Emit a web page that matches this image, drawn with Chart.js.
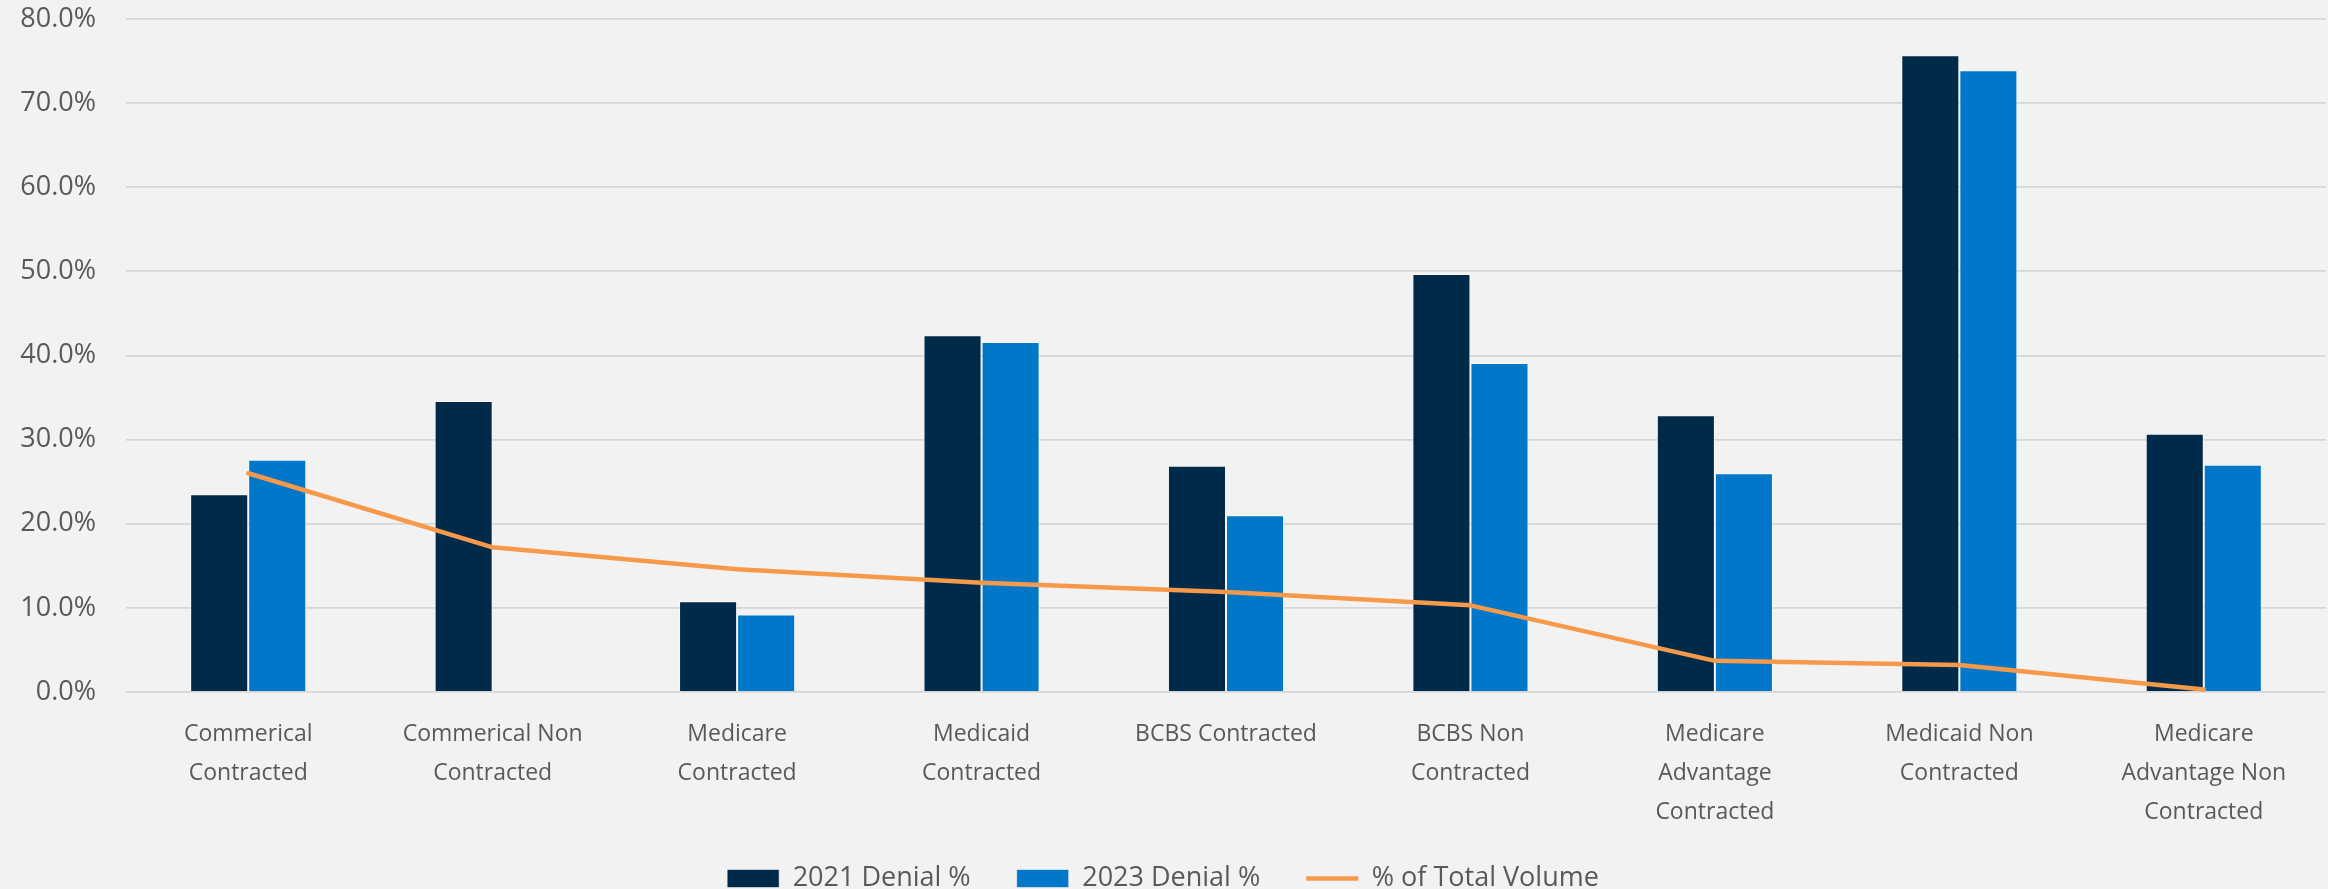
<!DOCTYPE html>
<html>
<head>
<meta charset="utf-8">
<title>Denial % by Payer</title>
<script src="https://cdn.jsdelivr.net/npm/chart.js@4.4.1/dist/chart.umd.min.js"></script>
<style>
  html, body { margin: 0; padding: 0; background: #F2F2F2; }
  #wrap { width: 2328px; height: 889px; }
</style>
</head>
<body>
<div id="wrap"><canvas id="denialChart"></canvas></div>
<script>
// payer groups (multi-line labels)
const payers = [
  ["Commerical", "Contracted"],
  ["Commerical Non", "Contracted"],
  ["Medicare", "Contracted"],
  ["Medicaid", "Contracted"],
  "BCBS Contracted",
  ["BCBS Non", "Contracted"],
  ["Medicare", "Advantage", "Contracted"],
  ["Medicaid Non", "Contracted"],
  ["Medicare", "Advantage Non", "Contracted"]
];

// denial rates in percent
const denial2021 = [23.5, 34.6, 10.8, 42.4, 26.9, 49.7, 32.9, 75.7, 30.7];
const denial2023 = [27.6, null, 9.2, 41.6, 21.0, 39.1, 26.0, 73.9, 27.0];
const totalVolume = [26.0, 17.2, 14.6, 13.0, 11.9, 10.3, 3.7, 3.2, 0.3];

const yTicks = [0, 10, 20, 30, 40, 50, 60, 70, 80];

const FONT = '"Open Sans", "DejaVu Sans", sans-serif';
const TEXT = '#595959';

new Chart(document.getElementById("denialChart"), {
  data: {
    labels: payers,
    datasets: [
      {
        type: "bar",
        label: "2021 Denial %",
        data: denial2021,
        backgroundColor: "#002A4A",
        borderColor: "rgba(255,255,255,0.55)",
        borderWidth: 1,
        pointStyle: "rect",
        order: 1
      },
      {
        type: "bar",
        label: "2023 Denial %",
        data: denial2023,
        backgroundColor: "#0077C8",
        borderColor: "rgba(255,255,255,0.55)",
        borderWidth: 1,
        pointStyle: "rect",
        order: 1
      },
      {
        type: "line",
        label: "% of Total Volume",
        data: totalVolume,
        borderColor: "#F7994A",
        backgroundColor: "#F7994A",
        borderWidth: 4.5,
        borderCapStyle: "round",
        borderJoinStyle: "round",
        tension: 0,
        pointRadius: 0,
        pointHoverRadius: 0,
        pointStyle: "line",
        order: 0
      }
    ]
  },
  options: {
    responsive: true,
    maintainAspectRatio: false,
    animation: false,
    layout: { padding: { top: 19, right: 2, left: 0, bottom: -13 } },
    datasets: {
      bar: { categoryPercentage: 0.475, barPercentage: 1.0 }
    },
    scales: {
      x: {
        offset: true,
        grid: { display: false },
        border: { display: false },
        ticks: {
          color: TEXT,
          font: { family: FONT, size: 23, lineHeight: 1.7 },
          padding: 15,
          maxRotation: 0,
          autoSkip: false
        },
        afterFit: (scale) => {
          scale.height = 127;
          // let the three-line labels run past the axis box instead of clipping
          scale._computeLabelArea = () => undefined;
        }
      },
      y: {
        min: 0,
        max: 80,
        afterBuildTicks: (scale) => {
          scale.ticks = yTicks.map(v => ({ value: v }));
        },
        grid: { color: "#D6D6D6", lineWidth: 1.8, drawTicks: false },
        border: { display: false },
        ticks: {
          color: TEXT,
          font: { family: FONT, size: 27 },
          padding: 30,
          callback: (v) => v.toFixed(1) + "%"
        },
        afterFit: (scale) => {
          // fixed axis width; top/bottom handled by layout padding
          scale.width = 126;
          scale.paddingTop = 0;
          scale.paddingBottom = 0;
        }
      }
    },
    plugins: {
      tooltip: { enabled: false },
      legend: {
        position: "bottom",
        labels: {
          usePointStyle: true,
          pointStyleWidth: 52,
          boxHeight: 18,
          color: TEXT,
          font: { family: FONT, size: 27 },
          padding: 46,
          sort: (a, b) => a.datasetIndex - b.datasetIndex
        }
      }
    }
  }
});
</script>
</body>
</html>
